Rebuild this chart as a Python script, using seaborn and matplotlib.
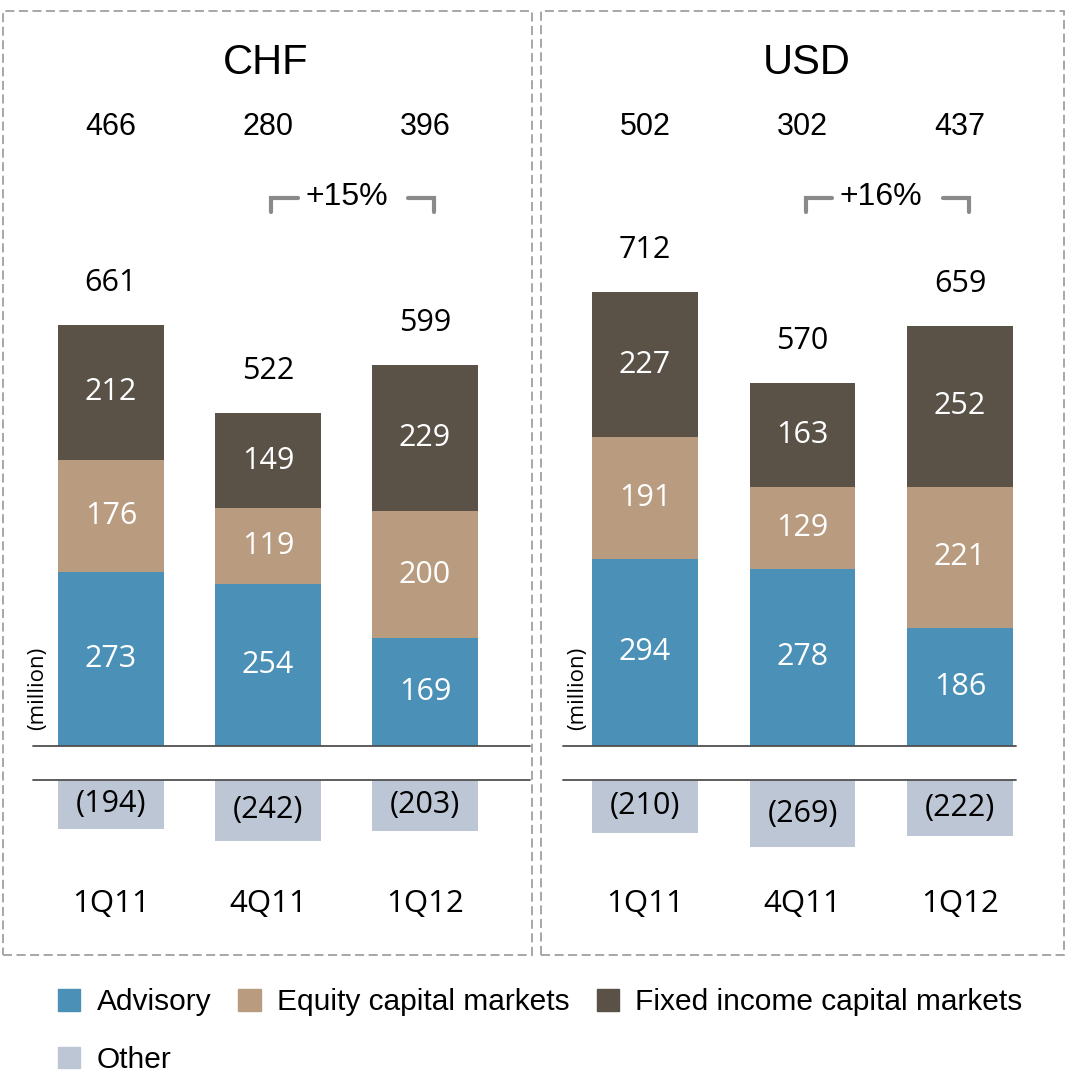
import matplotlib.pyplot as plt
import pandas as pd
import seaborn as sns
from matplotlib.patches import Rectangle, Patch

# chart data
quarters = ['1Q11', '4Q11', '1Q12']
currencies = ['CHF', 'USD']
advisory = {'CHF': [273, 254, 169], 'USD': [294, 278, 186]}
equity = {'CHF': [176, 119, 200], 'USD': [191, 129, 221]}
fixed_income = {'CHF': [212, 149, 229], 'USD': [227, 163, 252]}
other = {'CHF': [194, 242, 203], 'USD': [210, 269, 222]}
totals = {'CHF': [661, 522, 599], 'USD': [712, 570, 659]}
net = {'CHF': [466, 280, 396], 'USD': [502, 302, 437]}
growth = {'CHF': '+15%', 'USD': '+16%'}

# colours
c_adv = '#4a90b7'
c_ecm = '#b99c80'
c_fix = '#5a5147'
c_oth = '#bcc6d5'

sns.set_theme(style='white')
plt.rcParams['font.family'] = ['Open Sans', 'DejaVu Sans']
plt.rcParams['text.color'] = 'black'

W, H = 1067, 1078
fig = plt.figure(figsize=(W / 100, H / 100), dpi=100)


def px_axes(left, top, right, bottom):
    return fig.add_axes([left / W, 1 - bottom / H, (right - left) / W, (bottom - top) / H])


# panel geometry in pixels
panels = {
    'CHF': dict(left=33, right=530, first=111, step=157, title_x=266, box=(3, 532), mill_x=38),
    'USD': dict(left=563, right=1016, first=645, step=157.5, title_x=807, box=(541, 1064), mill_x=578),
}
up_top, up_bot = 100, 746
lo_top, lo_bot = 780, 880
up_scale = 0.637   # px per unit, stacked bars
lo_scale = 0.25    # px per unit, other bars

for cur in currencies:
    p = panels[cur]
    xlim = (-(p['first'] - p['left']) / p['step'], (p['right'] - p['first']) / p['step'])

    df = pd.DataFrame({'quarter': quarters, 'adv': advisory[cur], 'ecm': equity[cur],
                       'fix': fixed_income[cur], 'oth': other[cur]})
    df['adv_ecm'] = df['adv'] + df['ecm']
    df['all'] = df['adv_ecm'] + df['fix']

    # stacked bars
    ax = px_axes(p['left'], up_top, p['right'], up_bot)
    for col, color in [('all', c_fix), ('adv_ecm', c_ecm), ('adv', c_adv)]:
        sns.barplot(data=df, x='quarter', y=col, color=color, width=0.67, saturation=1,
                    linewidth=0, errorbar=None, ax=ax)
    ax.set_xlim(*xlim)
    ax.set_ylim(0, (up_bot - up_top) / up_scale)
    ax.set_axis_off()
    ax.axhline(0, color='#505050', lw=1.3, clip_on=False)

    for i in range(len(quarters)):
        bottoms = [0, df['adv'][i], df['adv_ecm'][i]]
        vals = [df['adv'][i], df['ecm'][i], df['fix'][i]]
        for b, v in zip(bottoms, vals):
            ax.text(i, b + v / 2, f'{v}', color='white', fontsize=22, ha='center', va='center')
        ax.text(i, df['all'][i] + 66, f'{totals[cur][i]}', fontsize=22,
                ha='center', va='center')
        ax.text(i, 0.958, f'{net[cur][i]}', transform=ax.get_xaxis_transform(),
                family='Liberation Sans', fontsize=22, ha='center', va='center')

    # growth bracket
    tr = ax.get_xaxis_transform()
    ax.text(1.5, 0.85, growth[cur], transform=tr, family='Liberation Sans', fontsize=23,
            ha='center', va='center')
    yt, yb = 0.848, 0.827
    ax.plot([1.02, 1.02, 1.19], [yb, yt, yt], transform=tr, color='#8a8a8a', lw=3,
            solid_joinstyle='miter', clip_on=False)
    ax.plot([1.89, 2.06, 2.06], [yt, yt, yb], transform=tr, color='#8a8a8a', lw=3,
            solid_joinstyle='miter', clip_on=False)

    # other bars below
    ax2 = px_axes(p['left'], lo_top, p['right'], lo_bot)
    sns.barplot(data=df, x='quarter', y='oth', color=c_oth, width=0.67, saturation=1,
                linewidth=0, errorbar=None, ax=ax2)
    ax2.set_xlim(*xlim)
    ax2.set_ylim((lo_bot - lo_top) / lo_scale, 0)
    ax2.set_axis_off()
    ax2.axhline(0, color='#505050', lw=1.3, clip_on=False)
    for i, v in enumerate(other[cur]):
        ax2.text(i, v / 2, f'({v})', fontsize=22, ha='center', va='center')
        ax2.text(i, -0.24, quarters[i], transform=ax2.get_xaxis_transform(), fontsize=22.5,
                 ha='center', va='center')

    # title, unit, frame
    fig.text(p['title_x'] / W, 1 - 63 / H, cur, family='Liberation Sans', fontsize=30,
             ha='center', va='center')
    fig.text(p['mill_x'] / W, 1 - 688 / H, '(million)', fontsize=16, rotation=90,
             ha='center', va='center')
    bx0, bx1 = p['box']
    fig.add_artist(Rectangle((bx0 / W, 1 - 955 / H), (bx1 - bx0) / W, (955 - 11) / H,
                             transform=fig.transFigure, fill=False, ec='#a0a0a0', lw=1.3,
                             ls=(0, (5, 2.5))))

# legend, ordered so columns read row-wise
handles = [Patch(color=c_adv), Patch(color=c_oth), Patch(color=c_ecm), Patch(color=c_fix)]
labels = ['Advisory', 'Other', 'Equity capital markets', 'Fixed income capital markets']
fig.legend(handles, labels, loc='upper left', bbox_to_anchor=(58 / W, 1 - 988 / H),
           ncol=3, frameon=False, borderpad=0, borderaxespad=0,
           prop={'family': 'Liberation Sans', 'size': 21.5},
           handlelength=0.75, handleheight=0.75, handletextpad=0.55,
           columnspacing=0.9, labelspacing=1.0)

plt.savefig('out.png', dpi=100)
